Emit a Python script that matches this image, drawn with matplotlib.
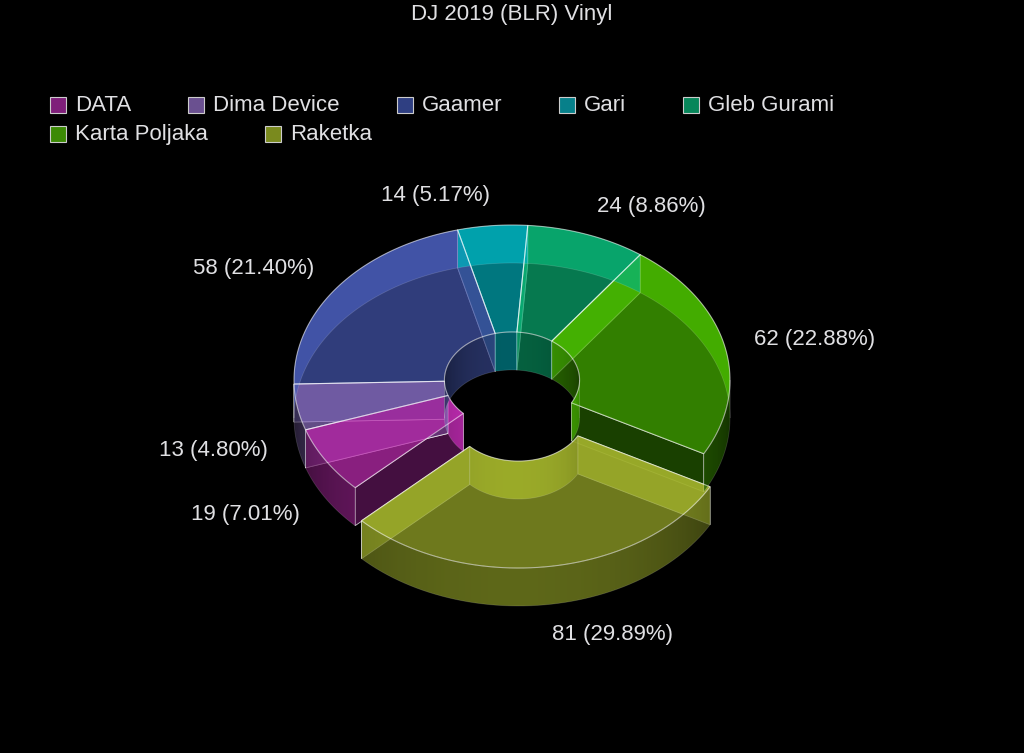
import numpy as np
import matplotlib.pyplot as plt
from matplotlib.patches import Polygon, Rectangle
import matplotlib.colors as mcolors

plt.rcParams['font.family'] = ['Liberation Sans', 'DejaVu Sans']

title = "DJ 2019 (BLR) Vinyl"
names = ["DATA", "Dima Device", "Gaamer", "Gari", "Gleb Gurami", "Karta Poljaka", "Raketka"]
values = [19, 13, 58, 14, 24, 62, 81]
top_colors = ["#b82aab", "#8266b4", "#4153a5", "#00a0ab", "#09a36b", "#44ab00", "#94a328"]
legend_colors = ["#7f1f7a", "#6a5090", "#2f3f82", "#07808a", "#07865a", "#3c8a05", "#7a8a1e"]
exploded = [False, False, False, False, False, False, True]

# layout of the 3d donut (pixels)
W, H = 1024, 753
cx, cy = 512, 380
rx, ry = 218, 155
ri = 0.31
depth = 38
start_deg = 226
explode = 0.215
alpha = 0.75
txt_col = "#e0e0e3"

fig = plt.figure(figsize=(W / 100, H / 100), dpi=100)
fig.patch.set_facecolor("black")
ax = fig.add_axes([0, 0, 1, 1])
ax.set_xlim(0, W)
ax.set_ylim(H, 0)
ax.axis("off")
ax.set_facecolor("black")


def pt(t, r, off, z=0):
    a = np.radians(t)
    return (cx + off[0] + r * rx * np.sin(a), cy + off[1] - r * ry * np.cos(a) + z)


def arc(t1, t2, r, off, z=0, n=60):
    ts = np.linspace(t1, t2, n)
    return [pt(t, r, off, z) for t in ts]


def shade(c, f):
    rgb = np.array(mcolors.to_rgb(c)) * f
    return tuple(np.clip(rgb, 0, 1))


def wall(poly, c, r, fmin, fmax, zo):
    xy = np.array(poly)
    x0, x1 = xy[:, 0].min(), xy[:, 0].max()
    y0, y1 = xy[:, 1].min(), xy[:, 1].max()
    if x1 - x0 < 0.5:
        return
    xs = np.linspace(x0, x1, 200)
    u = np.clip((xs - cx) / (r * rx), -1, 1)
    f = fmin + (fmax - fmin) * np.sqrt(1 - u ** 2)
    rgb = np.array(mcolors.to_rgb(c))
    img = np.zeros((1, len(xs), 4))
    img[0, :, :3] = np.clip(rgb[None, :] * f[:, None], 0, 1)
    img[0, :, 3] = alpha
    clip = Polygon(xy, closed=True, transform=ax.transData)
    im = ax.imshow(img, extent=[x0, x1, y1, y0], aspect="auto", interpolation="bilinear", zorder=zo)
    im.set_clip_path(clip)
    ax.add_patch(Polygon(xy, closed=True, fill=False, edgecolor=(1, 1, 1, 0.15), lw=0.6, zorder=zo))


def split(t1, t2):
    # pieces of an arc that lie on the far (back) or near (front) side
    cuts = [t1]
    for b in range(-270, 720, 180):
        if t1 < b < t2:
            cuts.append(b)
    cuts.append(t2)
    out = []
    for a, b in zip(cuts[:-1], cuts[1:]):
        out.append((a, b, np.cos(np.radians((a + b) / 2)) > 0))
    return out


total = sum(values)
angles = []
t = start_deg
for v in values:
    angles.append((t, t + v / total * 360))
    t += v / total * 360

offsets = []
for (t1, t2), ex in zip(angles, exploded):
    m = np.radians((t1 + t2) / 2)
    if ex:
        offsets.append((explode * rx * np.sin(m), -explode * ry * np.cos(m)))
    else:
        offsets.append((0, 0))

# caps under the tops, walls over them (all transparent)
for (t1, t2), off, c in zip(angles, offsets, top_colors):
    for tc, sgn in ((t1, 1), (t2, -1)):
        facing_back = sgn * np.sin(np.radians(tc)) > 0
        cap = [pt(tc, ri, off), pt(tc, 1, off), pt(tc, 1, off, depth), pt(tc, ri, off, depth)]
        ax.add_patch(Polygon(cap, closed=True, facecolor=shade(c, 1.4 if facing_back else 0.5),
                             alpha=alpha, edgecolor=(1, 1, 1, 0.22), lw=0.6, zorder=1))

for (t1, t2), off, c in zip(angles, offsets, top_colors):
    top = arc(t1, t2, 1, off) + arc(t2, t1, ri, off)
    ax.add_patch(Polygon(top, closed=True, facecolor=c, alpha=alpha, lw=0, zorder=2))

for (t1, t2), off, c in zip(angles, offsets, top_colors):
    for a, b, back in split(t1, t2):
        inner = arc(a, b, ri, off) + arc(b, a, ri, off, depth)
        if back:
            wall(inner, c, ri, 0.45, 0.8, 3)
        else:
            wall(inner, c, ri, 0.9, 1.15, 3)
        outer = arc(a, b, 1, off) + arc(b, a, 1, off, depth)
        if back:
            wall(outer, c, 1, 1.1, 1.1, 3.2)
        else:
            wall(outer, c, 1, 0.35, 0.85, 3.2)

for (t1, t2), off in zip(angles, offsets):
    top = arc(t1, t2, 1, off) + arc(t2, t1, ri, off)
    ax.add_patch(Polygon(top, closed=True, fill=False, edgecolor=(1, 1, 1, 0.5), lw=0.8, zorder=5))

# data labels
for (t1, t2), off, v in zip(angles, offsets, values):
    m = np.radians((t1 + t2) / 2)
    lx = cx + off[0] + (rx + 30) * np.sin(m)
    ly = cy + off[1] - (ry + 30) * np.cos(m)
    if np.cos(m) < 0:
        ly += depth
    ha = "left" if np.sin(m) > 0 else "right"
    ax.text(lx, ly, f"{v} ({v / total * 100:.2f}%)", color=txt_col, fontsize=16,
            ha=ha, va="center", zorder=20)

ax.text(W / 2, 14, title, color=txt_col, fontsize=16, ha="center", va="center")

# legend drawn item by item
fig.canvas.draw()
renderer = fig.canvas.get_renderer()
lx0, lx, ly = 50, 50, 105
max_x = 880
for name, c in zip(names, legend_colors):
    t = ax.text(0, 0, name, color=txt_col, fontsize=16, va="center", ha="left")
    w = t.get_window_extent(renderer).width
    if lx + 25 + w > max_x:
        lx = lx0
        ly += 29
    t.set_position((lx + 25, ly))
    ax.add_patch(Rectangle((lx, ly - 8), 16, 16, facecolor=c, edgecolor="#cccccc", lw=0.8))
    lx += 25 + w + 57

fig.savefig("out.png", dpi=100, facecolor="black")
